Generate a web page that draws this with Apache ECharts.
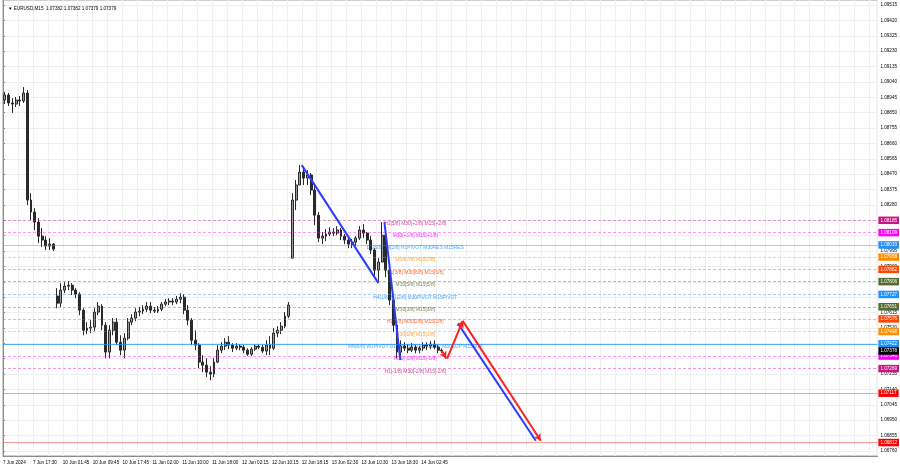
<!DOCTYPE html>
<html><head><meta charset="utf-8">
<script src="https://cdn.jsdelivr.net/npm/echarts@6.0.0/dist/echarts.min.js"></script>
<style>html,body{margin:0;padding:0;background:#fff}#c{width:900px;height:468px}</style>
</head><body><div id="c"></div>
<script>
// ---- data (each slot = one hour = 4 M15 bars) ----
const timeLabels = ["7 Jun 2024","7 Jun 17:30","10 Jun 01:45","10 Jun 09:45","10 Jun 17:45","11 Jun 02:00","11 Jun 10:00","11 Jun 18:00","12 Jun 02:15","12 Jun 10:15","12 Jun 18:15","13 Jun 02:30","13 Jun 10:30","13 Jun 18:30","14 Jun 02:45"];
const opens = [1.08928,1.08959,1.08910,1.08903,1.08928,1.08922,1.08971,1.08310,1.08236,1.08174,1.08087,1.08063,1.08026,1.08038,
1.07717,1.07673,1.07754,1.07778,1.07784,1.07754,1.07729,1.07630,1.07506,1.07519,1.07525,1.07618,1.07655,1.07537,1.07371,1.07506,1.07556,1.07432,1.07383,1.07457,1.07556,1.07581,1.07618,1.07624,1.07636,1.07655,1.07630,1.07624,1.07636,1.07667,1.07680,1.07686,1.07680,1.07698,1.07710,1.07630,1.07568,1.07444,1.07414,1.07309,1.07290,1.07247,1.07235,1.07309,1.07383,1.07408,1.07432,1.07414,1.07395,1.07408,1.07401,1.07383,1.07358,1.07389,1.07408,1.07401,1.07377,1.07414,1.07395,1.07488,1.07506,1.07531,1.07593,
1.07951,1.08310,1.08403,1.08483,1.08446,1.08465,1.08372,1.08217,1.08075,1.08087,1.08100,1.08112,1.08106,1.08125,1.08087,1.08063,1.08038,1.08050,1.08075,1.08125,1.08106,1.08063,1.08001,1.07877,1.07927,1.08093,1.07877,1.07692,1.07537,1.07371,1.07408,1.07395,1.07383,1.07401,1.07383,1.07395,1.07414,1.07408,1.07420,1.07401,1.07383];
const closes = [1.08959,1.08910,1.08903,1.08928,1.08922,1.08971,1.08310,1.08236,1.08174,1.08087,1.08063,1.08026,1.08038,1.08007,
1.07673,1.07754,1.07778,1.07784,1.07754,1.07729,1.07630,1.07506,1.07519,1.07525,1.07618,1.07655,1.07537,1.07371,1.07506,1.07556,1.07432,1.07383,1.07457,1.07556,1.07581,1.07618,1.07624,1.07636,1.07655,1.07630,1.07624,1.07636,1.07667,1.07680,1.07686,1.07680,1.07698,1.07710,1.07630,1.07568,1.07444,1.07414,1.07309,1.07290,1.07247,1.07235,1.07309,1.07383,1.07408,1.07432,1.07414,1.07395,1.07408,1.07401,1.07383,1.07358,1.07389,1.07408,1.07401,1.07377,1.07414,1.07395,1.07488,1.07506,1.07531,1.07593,1.07661,
1.08310,1.08403,1.08483,1.08446,1.08465,1.08372,1.08217,1.08075,1.08087,1.08100,1.08112,1.08106,1.08125,1.08087,1.08063,1.08038,1.08050,1.08075,1.08125,1.08106,1.08063,1.08001,1.07877,1.07927,1.08093,1.07877,1.07692,1.07537,1.07371,1.07408,1.07395,1.07383,1.07401,1.07383,1.07395,1.07414,1.07408,1.07420,1.07401,1.07383,1.07378];
const lows = [1.08903,1.08891,1.08848,1.08885,1.08891,1.08910,1.08279,1.08186,1.08125,1.08044,1.08019,1.08001,1.08001,1.07995,
1.07642,1.07649,1.07735,1.07754,1.07723,1.07704,1.07599,1.07475,1.07482,1.07488,1.07500,1.07599,1.07506,1.07333,1.07333,1.07475,1.07414,1.07352,1.07333,1.07444,1.07537,1.07562,1.07593,1.07605,1.07618,1.07612,1.07612,1.07612,1.07624,1.07655,1.07661,1.07661,1.07667,1.07673,1.07605,1.07537,1.07414,1.07383,1.07272,1.07247,1.07216,1.07197,1.07216,1.07303,1.07364,1.07383,1.07389,1.07371,1.07383,1.07383,1.07364,1.07346,1.07346,1.07377,1.07389,1.07364,1.07352,1.07352,1.07383,1.07463,1.07482,1.07519,1.07581,
1.07951,1.08248,1.08403,1.08403,1.08403,1.08341,1.08155,1.08050,1.08038,1.08056,1.08087,1.08087,1.08093,1.08063,1.08038,1.08013,1.08013,1.08026,1.08063,1.08075,1.08038,1.07976,1.07828,1.07809,1.07927,1.07834,1.07661,1.07494,1.07333,1.07333,1.07377,1.07364,1.07371,1.07364,1.07364,1.07377,1.07383,1.07389,1.07389,1.07364,1.07364];
const highs = [1.08978,1.08971,1.08940,1.08947,1.08953,1.09008,1.08990,1.08353,1.08260,1.08199,1.08137,1.08087,1.08075,1.08044,
1.07766,1.07797,1.07803,1.07809,1.07797,1.07766,1.07741,1.07642,1.07556,1.07568,1.07642,1.07680,1.07667,1.07556,1.07537,1.07581,1.07581,1.07475,1.07488,1.07581,1.07605,1.07642,1.07649,1.07661,1.07680,1.07680,1.07649,1.07655,1.07680,1.07698,1.07704,1.07704,1.07717,1.07735,1.07729,1.07661,1.07581,1.07506,1.07426,1.07352,1.07333,1.07284,1.07333,1.07414,1.07432,1.07457,1.07469,1.07426,1.07426,1.07420,1.07414,1.07395,1.07401,1.07420,1.07420,1.07414,1.07444,1.07469,1.07519,1.07531,1.07556,1.07618,1.07680,
1.08353,1.08434,1.08526,1.08508,1.08495,1.08477,1.08403,1.08236,1.08112,1.08131,1.08143,1.08137,1.08149,1.08137,1.08100,1.08075,1.08069,1.08087,1.08149,1.08162,1.08112,1.08087,1.08013,1.07951,1.08174,1.08137,1.07890,1.07704,1.07556,1.07444,1.07432,1.07420,1.07426,1.07414,1.07408,1.07432,1.07432,1.07438,1.07444,1.07414,1.07395];

const gridPrices = [1.09515,1.09420,1.09325,1.09230,1.09135,1.09040,1.08945,1.08850,1.08755,1.08660,1.08565,1.08470,1.08375,1.08280,1.08185,1.08090,1.07995,1.07900,1.07805,1.07710,1.07615,1.07520,1.07425,1.07330,1.07235,1.07140,1.07045,1.06950,1.06855,1.06760];
const axisPrices = [1.09515,1.09420,1.09325,1.09230,1.09135,1.09040,1.08945,1.08850,1.08755,1.08660,1.08565,1.08470,1.08375,1.08280,1.07995,1.07900,1.07615,1.07520,1.07235,1.07140,1.07045,1.06950,1.06855,1.06760];

const levelPrices = [1.08185,1.08109,1.08033,1.07958,1.07882,1.07806,1.07727,1.07651,1.07576,1.07498,1.07422,1.07346,1.07269];
const levelTexts = ["H1[5/8] M30[+2/8] M15[+2/8]","M30[+1/8] M15[+1/8]","D1[6/8] H4[2/8] H1PIVOT M30RES M15RES","M30[7/8] M15[7/8]","H1[3/8] M30[6/8] M15[6/8]","M30[5/8] M15[5/8]","H4[1/8] H1[2/8] M30PIVOT M15PIVOT","M30[3/8] M15[3/8]","H1[1/8] M30[2/8] M15[2/8]","M30[1/8] M15[1/8]","MN[6/8] W1PIVOT D1[5/8] H4SUP H1SUP M30SUP M15SUP","M30[-1/8] M15[-1/8]","H1[-1/8] M30[-2/8] M15[-2/8]"];
const redLevels = [1.07117,1.06812];
const lastPrice = 1.07378;
const titleText = "\u25BC EURUSD,M15  1.07382 1.07382 1.07379 1.07379";

// trend lines: [slot, price] pairs
const blueLines = [[[80.0,1.08526],[100.53,1.07797]],[[102.13,1.08174],[106.4,1.07321]],[[121.8,1.07548],[142.67,1.06823]]];
const redArrows = [[[117.5,1.07379],[118.7,1.07331]],[[118.93,1.07331],[123.1,1.07564]],[[123.1,1.07564],[144.0,1.06823]]];

// ---- styles ----
const levelColors = ['#c71585','#ff00ff','#1e90ff','#ff8c00','#ff4500','#556b2f','#1e90ff','#556b2f','#ff4500','#ff8c00','#1e90ff','#ff00ff','#c71585'];
const FONT = 'Liberation Sans';
const FS = 4.6;
const TEXT_X = 110.4;

function rgba(hex, a) {
  const n = parseInt(hex.slice(1), 16);
  return 'rgba(' + ((n >> 16) & 255) + ',' + ((n >> 8) & 255) + ',' + (n & 255) + ',' + a + ')';
}

const chart = echarts.init(document.getElementById('c'), null, {renderer:'canvas'});
const candleData = opens.map((o,i)=>[i+0.5, o, closes[i], lows[i], highs[i]]);

const levelLines = levelPrices.map((p,i)=>{
  const solid = (i===2 || i===10);
  return {
    yAxis: p,
    lineStyle: {color: rgba(levelColors[i], i===10 ? 0.75 : 0.42), type: solid ? 'solid' : [3,2], width: 1},
    label: {formatter: p.toFixed(5), backgroundColor: levelColors[i]}
  };
});
redLevels.forEach(p=>levelLines.push({
  yAxis: p,
  lineStyle: {color: 'rgba(240,80,80,0.55)', type: 'solid', width: 1},
  label: {formatter: p.toFixed(5), backgroundColor: '#ff0000'}
}));
levelLines.push({
  yAxis: lastPrice,
  lineStyle: {color: 'rgba(0,0,0,0)', width: 0},
  label: {formatter: lastPrice.toFixed(5), backgroundColor: '#000000'}
});

const textData = levelPrices.map((p,i)=>({
  value: [TEXT_X, p],
  label: {formatter: levelTexts[i], color: levelColors[i]}
}));

const trendData = [];
blueLines.forEach(l=>trendData.push([
  {coord: l[0], symbol: 'none', lineStyle: {color: '#2a3cff', width: 2, type: 'solid'}},
  {coord: l[1], symbol: 'none'}
]));
redArrows.forEach(l=>trendData.push([
  {coord: l[0], symbol: 'none', lineStyle: {color: '#ff2020', width: 2, type: 'solid'}},
  {coord: l[1], symbol: 'arrow', symbolSize: [6,7]}
]));

chart.setOption({
  animation: false,
  backgroundColor: '#ffffff',
  title: {text: titleText, left: 3, top: 1, textStyle: {fontSize: FS, fontWeight: 'normal', color: '#000', fontFamily: FONT}},
  grid: {left: 0, right: 22, top: 0, bottom: 12, show: true, borderColor: '#a0a0a0', borderWidth: 1},
  xAxis: {
    type: 'value', min: 0, max: 878/3.75, interval: 4,
    axisLine: {show: true, lineStyle: {color: '#8c8c8c'}},
    axisTick: {show: false},
    splitLine: {show: true, lineStyle: {color: '#efefef', width: 1}},
    axisLabel: {
      show: true, align: 'left', margin: 4, color: '#000', fontSize: FS, fontFamily: FONT,
      showMaxLabel: false,
      formatter: v => { const k = Math.round(v); return (k % 8 === 0 && k/8 < timeLabels.length) ? timeLabels[k/8] : ''; }
    }
  },
  yAxis: {
    type: 'value', position: 'right', min: 1.06729, max: 1.09546, scale: true,
    axisLine: {show: true, lineStyle: {color: '#8c8c8c'}},
    axisTick: {show: true, length: 2, customValues: gridPrices, lineStyle: {color: '#8c8c8c'}},
    splitLine: {show: true, lineStyle: {color: '#efefef', width: 1}},
    axisLabel: {show: true, customValues: axisPrices, margin: 3, color: '#000', fontSize: FS, fontFamily: FONT,
      formatter: v => v.toFixed(5)}
  },
  series: [
    {
      type: 'scatter', z: 1, silent: true, symbolSize: 0,
      data: textData,
      label: {show: true, position: 'inside', offset: [0, 3], fontSize: 4.9, fontFamily: FONT, textBorderWidth: 0, textShadowBlur: 0},
      markLine: {
        silent: true, symbol: 'none', precision: 5, animation: false,
        label: {show: true, position: 'end', distance: 1, color: '#fff', fontSize: FS, fontFamily: FONT, padding: [1.5, 2, 1, 2], textBorderWidth: 0},
        data: levelLines
      }
    },
    {
      type: 'candlestick', z: 2, silent: true, barWidth: 2.4,
      data: candleData,
      itemStyle: {color: '#9a9a9a', color0: '#2a2a2a', borderColor: '#2a2a2a', borderColor0: '#2a2a2a', borderWidth: 1}
    },
    {
      type: 'line', z: 3, silent: true, data: [],
      markLine: {silent: true, animation: false, symbol: 'none', label: {show: false}, data: trendData}
    }
  ]
});
</script>
</body></html>
